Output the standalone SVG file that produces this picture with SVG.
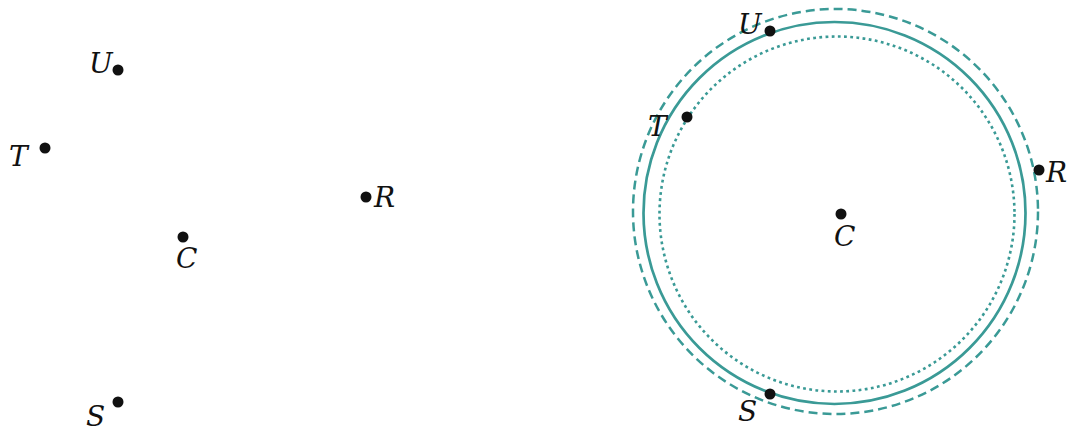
<svg xmlns="http://www.w3.org/2000/svg" width="1072" height="431" viewBox="0 0 1072 431">
<style>
.lbl{font-family:"DejaVu Serif","Liberation Serif",serif;font-style:italic;font-size:28px;fill:#111}
.pt{fill:#111}
.c{fill:none;stroke:#3a9a96}
</style>
<rect width="1072" height="431" fill="#fff"/>
<g id="connectors">
<circle id="dashed" class="c" cx="835.5" cy="211.5" r="202.5" stroke-width="2.5" stroke-dasharray="9,5"/>
<circle id="solid" class="c" cx="834.5" cy="213" r="191" stroke-width="2.7"/>
<circle id="dotted" class="c" cx="837" cy="214" r="177.5" stroke-width="2.6" stroke-dasharray="2.8,3.4"/>
</g>
<g id="left-U"><circle class="pt" cx="118" cy="70" r="5.5"/><text class="lbl" x="89" y="73">U</text></g>
<g id="left-T"><circle class="pt" cx="45" cy="148" r="5.5"/><text class="lbl" x="9" y="166">T</text></g>
<g id="left-R"><circle class="pt" cx="366" cy="197" r="5.5"/><text class="lbl" x="374" y="207">R</text></g>
<g id="left-C"><circle class="pt" cx="183" cy="237" r="5.5"/><text class="lbl" x="176" y="268">C</text></g>
<g id="left-S"><circle class="pt" cx="118" cy="402" r="5.5"/><text class="lbl" x="86" y="426">S</text></g>
<g id="right-U"><circle class="pt" cx="770" cy="31" r="5.5"/><text class="lbl" x="738" y="34">U</text></g>
<g id="right-T"><circle class="pt" cx="687" cy="117" r="5.5"/><text class="lbl" x="648" y="136">T</text></g>
<g id="right-R"><circle class="pt" cx="1039" cy="170" r="5.5"/><text class="lbl" x="1046" y="182">R</text></g>
<g id="right-C"><circle class="pt" cx="841" cy="214" r="5.5"/><text class="lbl" x="834" y="246">C</text></g>
<g id="right-S"><circle class="pt" cx="770" cy="394" r="5.5"/><text class="lbl" x="738" y="421">S</text></g>
</svg>
